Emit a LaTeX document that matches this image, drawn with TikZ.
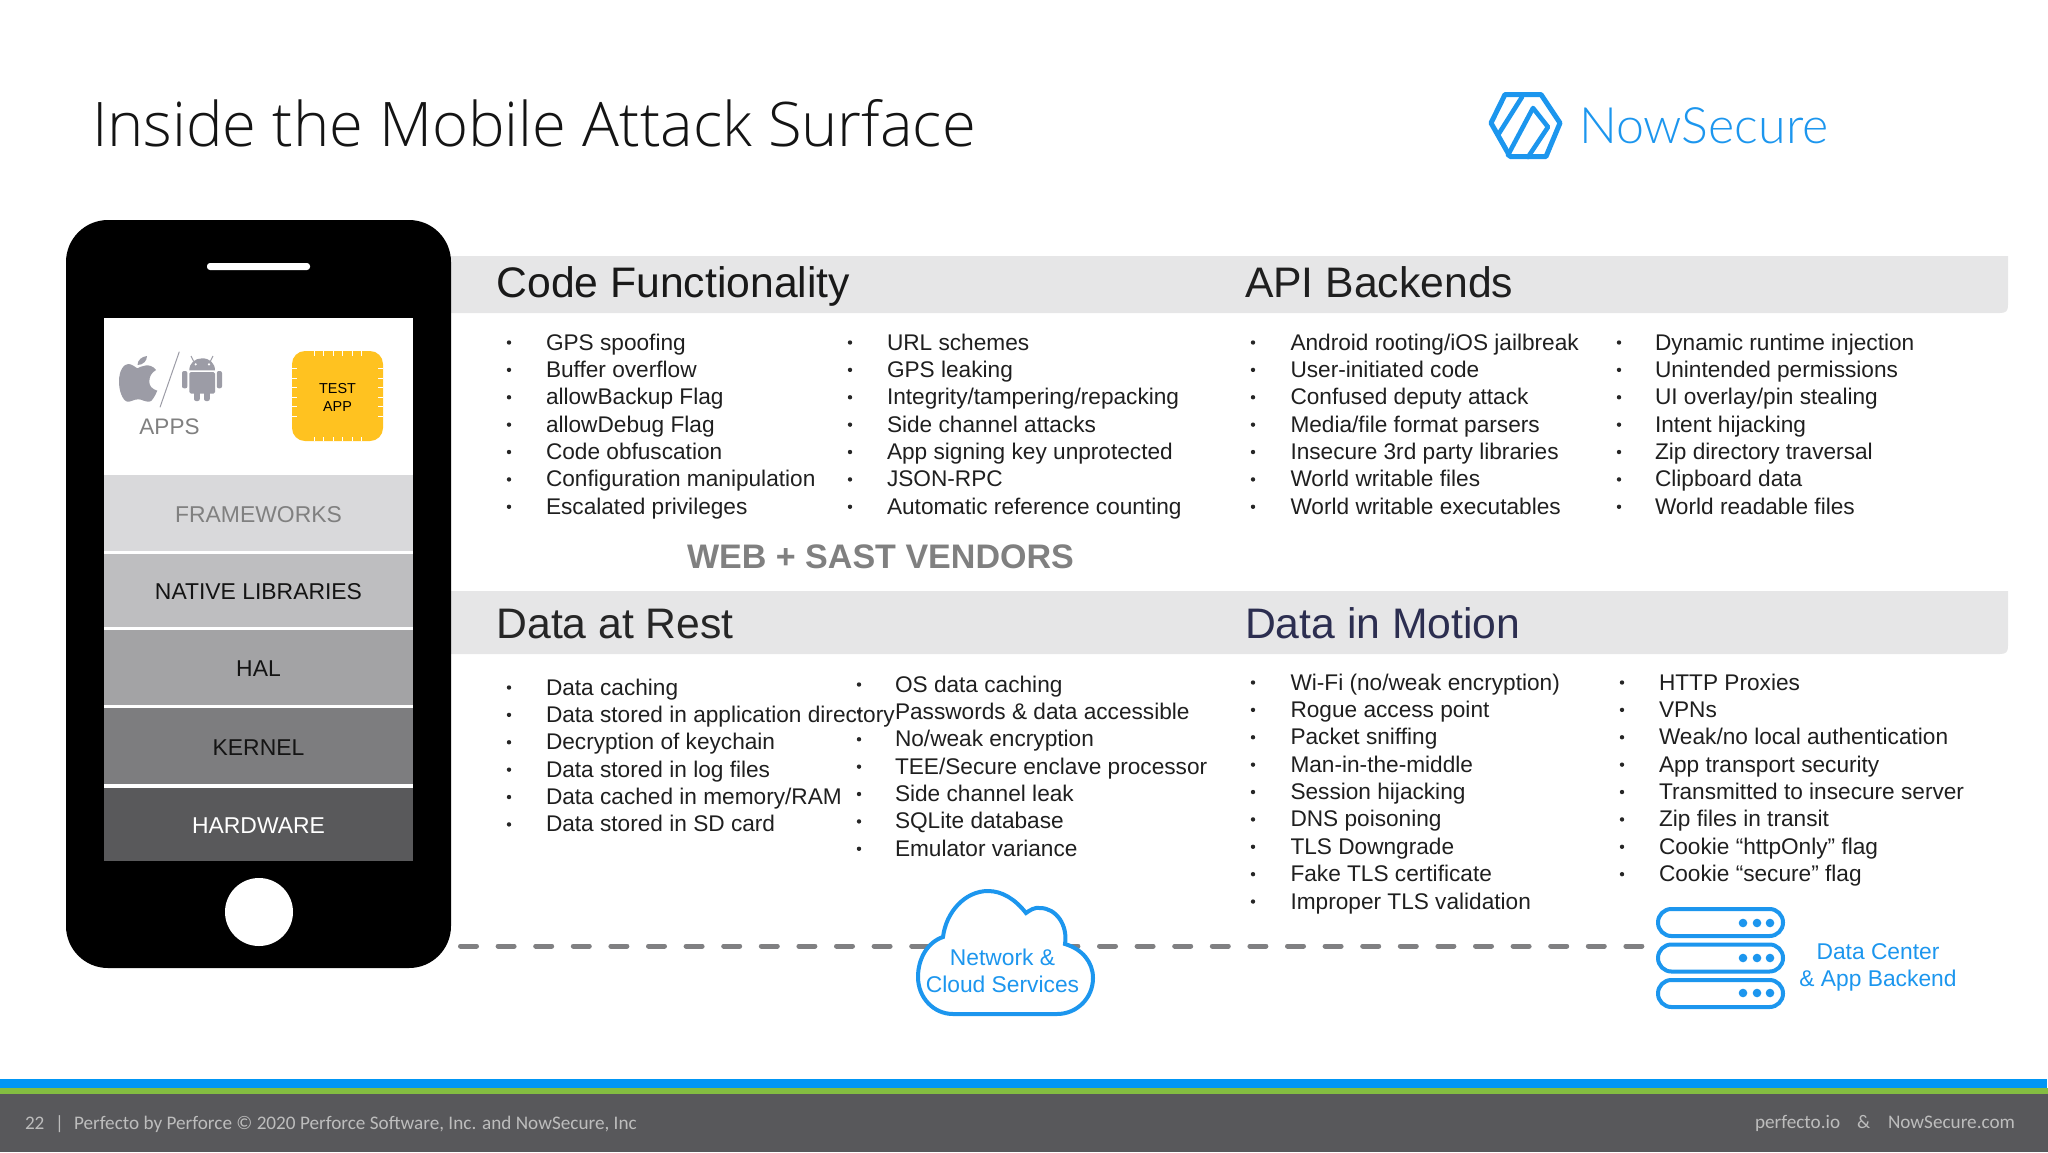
\documentclass[tikz,border=0pt]{standalone}
\usepackage{fontspec}
\setmainfont{Liberation Sans}
\newfontfamily\titlefont{Open Sans Light}
\newfontfamily\logofont{Lato Light}
\newfontfamily\footfont{Carlito}
\definecolor{bandgrey}{HTML}{E6E6E7}
\definecolor{nsblue}{HTML}{1C96EE}
\definecolor{dashgrey}{HTML}{808082}
\definecolor{icongrey}{HTML}{9C9CA6}
\definecolor{footgrey}{HTML}{58585B}
\definecolor{foottext}{HTML}{BDBDBD}
\definecolor{layA}{RGB}{217,217,219}
\definecolor{layB}{RGB}{190,190,192}
\definecolor{layC}{RGB}{163,163,165}
\definecolor{layD}{RGB}{125,125,127}
\definecolor{layE}{RGB}{89,89,91}
\definecolor{testyellow}{RGB}{255,194,32}
\definecolor{motionblue}{RGB}{44,46,80}
\definecolor{stripeblue}{RGB}{0,150,245}
\definecolor{stripegreen}{RGB}{132,189,65}
\tikzset{
  txt/.style={inner sep=0pt,outer sep=0pt,anchor=base west},
  item/.style={txt,font=\fontsize{22.65pt}{27pt}\selectfont,text=black!88},
  bul/.style={circle,fill=black!85,inner sep=0pt,minimum size=4.4pt},
  heading/.style={txt,font=\fontsize{42.7pt}{50pt}\selectfont},
  layer/.style={rectangle,inner sep=0pt,outer sep=0pt,minimum width=309pt,font=\fontsize{22.9pt}{27pt}\selectfont,anchor=north west},
  bluetxt/.style={inner sep=0pt,outer sep=0pt,align=center,text=nsblue,font=\fontsize{22.8pt}{27pt}\selectfont},
  server/.style={rectangle,draw=nsblue,line width=4pt,fill=white,rounded corners=13.4pt,minimum width=125pt,minimum height=27pt,inner sep=0pt,outer sep=0pt},
  srvdot/.style={circle,fill=nsblue,inner sep=0pt,minimum size=8.6pt},
  dashline/.style={draw=dashgrey,line width=5pt,line cap=round,dash pattern=on 16pt off 21.6pt},
  foot/.style={txt,text=foottext,font=\footfont\fontsize{19.2pt}{23pt}\selectfont},
}
\newcommand{\lowered}[1]{\raisebox{-1.3pt}[\height][0pt]{#1}}
\newcommand{\bulletlist}[5]{%
  \foreach \t [count=\i] in {#5}{%
    \pgfmathsetmacro{\yy}{#4+(\i-1)*27.38}
    \node[bul] (#1-b\i) at (#2,\yy-7.5) {};
    \node[item] (#1-\i) at (#3,\yy) {\t};
  }%
}
\begin{document}
\begin{tikzpicture}[x=1pt,y=-1pt]
\useasboundingbox (0,0) rectangle (2048,1152);
% bands
\fill[bandgrey] (440,256) -- (2008,256) -- (2008,305) .. controls (2008,311) and (2006,313) .. (2000,313) -- (440,313) -- cycle;
\fill[bandgrey] (440,591) -- (2008,591) -- (2008,646) .. controls (2008,652) and (2006,654) .. (2000,654) -- (440,654) -- cycle;
% title
\node[txt,font=\titlefont\fontsize{61.5pt}{70pt}\selectfont,text=black!92] (title) at (92,146) {Inside the Mobile Attack Surface};
% logo
\draw[nsblue,line width=5pt,line join=round,line cap=round]
  (1491,123) -- (1505,94.5) -- (1541,94.5) -- (1560,123) -- (1546,156.5) -- (1510,156.5) -- cycle;
\draw[nsblue,line width=4.6pt,line join=round,line cap=round] (1522,97) -- (1498,135);
\draw[nsblue,line width=4.6pt,line join=round,line cap=round] (1508,155) -- (1533,108) -- (1548,127) -- (1528,157);
\node[txt,font=\logofont\fontsize{50.2pt}{60pt}\selectfont,text=nsblue] (logo) at (1579,143) {NowSecure};
% phone
\node[rectangle,fill=black,rounded corners=42pt,minimum width=385pt,minimum height=748pt,inner sep=0pt,outer sep=0pt,anchor=north west] (phone) at (66,220) {};
\fill[white,rounded corners=3pt] (207,263) rectangle (310,270);
\fill[white] (104,318) rectangle (413,475);
\node[layer,fill=white,minimum height=386pt] (screenbg) at (104,475) {};
\node[layer,fill=layA,text=black!50,minimum height=76pt] (frameworks) at (104,475) {\lowered{FRAMEWORKS}};
\node[layer,fill=layB,text=black!92,minimum height=73pt] (native) at (104,554) {\lowered{NATIVE LIBRARIES}};
\node[layer,fill=layC,text=black!92,minimum height=75pt] (hal) at (104,630) {\lowered{HAL}};
\node[layer,fill=layD,text=black!92,minimum height=76pt] (kernel) at (104,708) {\lowered{KERNEL}};
\node[layer,fill=layE,text=white,minimum height=73pt] (hardware) at (104,788) {\lowered{HARDWARE}};
\node[circle,fill=white,minimum size=68pt,inner sep=0pt] (home) at (259,912) {};
% apple
\fill[icongrey] (137.3,368.3) .. controls (141,366.5) and (150,362) .. (156,370) .. controls (151,373) and (149.3,377) .. (149.3,381.7) .. controls (149.3,386) and (152,389) .. (157.3,390.7) .. controls (155,396) and (152,401.7) .. (149.3,401.7) .. controls (145,402) and (142,399.3) .. (138.3,399.3) .. controls (134,399.3) and (131,402) .. (127.3,401.7) .. controls (122,400) and (119,390) .. (119,381.7) .. controls (119,370) and (124,364) .. (128.3,364) .. controls (132,364) and (135,367) .. (137.3,368.3) -- cycle;
\fill[icongrey] (137.5,365) .. controls (137.5,360) and (142,356.5) .. (147,356) .. controls (147,361) and (143,365) .. (137.5,365) -- cycle;
\draw[icongrey,line width=1pt] (179.3,351.7) -- (160,407.3);
% android
\fill[icongrey] (189.3,370.4) .. controls (189.3,363) and (195,358.3) .. (202.2,358.3) .. controls (209.5,358.3) and (215,363) .. (215,370.4) -- cycle;
\fill[icongrey,rounded corners=1.5pt] (189.3,372) rectangle (215,393.5);
\fill[icongrey,rounded corners=2pt] (194,388) rectangle (199.8,401);
\fill[icongrey,rounded corners=2pt] (204,388) rectangle (209.8,401);
\fill[icongrey,rounded corners=2pt] (182,371) rectangle (187.4,388.3);
\fill[icongrey,rounded corners=2pt] (216.8,371) rectangle (222,388.3);
\draw[icongrey,line width=1pt] (193.5,361) -- (191,356);
\draw[icongrey,line width=1pt] (210.5,361) -- (213,356);
\fill[white] (195.7,364.3) circle (1.2pt) (209,364.3) circle (1.2pt);
\node[txt,anchor=base,font=\fontsize{22.5pt}{27pt}\selectfont,text=black!50] (apps) at (169.5,434) {APPS};
% test app
\node[rectangle,fill=testyellow,rounded corners=13pt,minimum width=91pt,minimum height=90pt,inner sep=0pt,outer sep=0pt,anchor=north west] (testapp) at (292,351) {};
\node[inner sep=0pt,align=center,font=\fontsize{14.4pt}{17.5pt}\selectfont,text=black] (testlabel) at (337.5,397.3) {TEST\\APP};
\foreach \p in {314.3,323.8,333.3,342.8,352.3,361.8}{
  \draw[white,line width=0.9pt] (\p,351) -- (\p,355.5);
  \draw[white,line width=0.9pt] (\p,441) -- (\p,436.5);
}
\foreach \p in {368.3,378,387.6,397.2,406.8,416.4}{
  \draw[white,line width=0.9pt] (292,\p) -- (297,\p);
  \draw[white,line width=0.9pt] (383,\p) -- (378,\p);
}
% headings
\node[heading,text=black!90] (h1) at (496.5,297) {Code Functionality};
\node[heading,text=black!88] (h2) at (1245,297) {API Backends};
\node[heading,text=black!85] (h3) at (496.5,638) {Data at Rest};
\node[heading,text=motionblue] (h4) at (1245,638) {Data in Motion};
\node[txt,font=\bfseries\fontsize{34.05pt}{40pt}\selectfont,text=black!50] (web) at (687,568) {WEB + SAST VENDORS};
% lists
\bulletlist{a}{509}{546}{350}{GPS spoofing,Buffer overflow,allowBackup Flag,allowDebug Flag,Code obfuscation,Configuration manipulation,Escalated privileges}
\bulletlist{b}{850}{887}{350}{URL schemes,GPS leaking,Integrity/tampering/repacking,Side channel attacks,App signing key unprotected,JSON-RPC,Automatic reference counting}
\bulletlist{c}{1253}{1290.5}{350}{Android rooting/iOS jailbreak,User-initiated code,Confused deputy attack,Media/file format parsers,Insecure 3rd party libraries,World writable files,World writable executables}
\bulletlist{d}{1619}{1655}{350}{Dynamic runtime injection,Unintended permissions,UI overlay/pin stealing,Intent hijacking,Zip directory traversal,Clipboard data,World readable files}
\bulletlist{e}{509}{546}{695}{Data caching,Data stored in application directory,Decryption of keychain,Data stored in log files,Data cached in memory/RAM,Data stored in SD card}
\bulletlist{f}{859}{895}{692}{OS data caching,Passwords \& data accessible,No/weak encryption,TEE/Secure enclave processor,Side channel leak,SQLite database,Emulator variance}
\bulletlist{g}{1253}{1290.5}{690}{Wi-Fi (no/weak encryption),Rogue access point,Packet sniffing,Man-in-the-middle,Session hijacking,DNS poisoning,TLS Downgrade,Fake TLS certificate,Improper TLS validation}
\bulletlist{h}{1622}{1659}{690}{HTTP Proxies,VPNs,Weak/no local authentication,App transport security,Transmitted to insecure server,Zip files in transit,Cookie “httpOnly” flag,Cookie “secure” flag}
% connectors
\coordinate (phoneport) at (460.5,946);
\coordinate (cloudportL) at (950,946);
\coordinate (cloudportR) at (1061.9,946);
\coordinate (srvport) at (1643,946);
\draw[dashline] (phoneport) -- (cloudportL);
\draw[dashline] (cloudportR) -- (srvport);
% cloud
\draw[nsblue,line width=4pt,fill=white] (953,1014) -- (1057,1014) .. controls (1077,1014) and (1093,998) .. (1093,978) .. controls (1093,962) and (1082,949) .. (1065,944) .. controls (1068,925) and (1056,908) .. (1040,908) .. controls (1035,907) and (1030,910) .. (1026,913) .. controls (1015,899) and (1002,891) .. (988,891) .. controls (965,891) and (946,912) .. (943,937) .. controls (928,942) and (918,958) .. (918,977) .. controls (918,998) and (934,1014) .. (953,1014) -- cycle;
\node[bluetxt] (cloud) at (1002.5,971) {Network \&\\Cloud Services};
% servers
\node[server] (srv1) at (1720.5,922.5) {};
\node[server] (srv2) at (1720.5,958) {};
\node[server] (srv3) at (1720.5,993.5) {};
\foreach \s/\y in {1/923,2/958,3/993}{
  \node[srvdot] (dA\s) at (1743,\y) {};
  \node[srvdot] (dB\s) at (1757,\y) {};
  \node[srvdot] (dC\s) at (1770,\y) {};
}
\node[bluetxt] (dc) at (1878,967.5) {Data Center\\\& App Backend};
% footer
\fill[footgrey] (0,1094) rectangle (2048,1152);
\fill[stripeblue] (0,1079) rectangle (2047,1088);
\fill[stripegreen] (0,1088) rectangle (2048,1094);
\node[foot] (fn) at (25,1129) {22};
\node[foot] (fb) at (55,1129) {|};
\node[foot] (fc) at (74,1129) {Perfecto by Perforce © 2020 Perforce Software, Inc. and NowSecure, Inc};
\node[foot] (fr1) at (1755,1128) {perfecto.io};
\node[foot] (fr2) at (1857,1128) {\&};
\node[foot] (fr3) at (1888,1128) {NowSecure.com};
\end{tikzpicture}
\end{document}
